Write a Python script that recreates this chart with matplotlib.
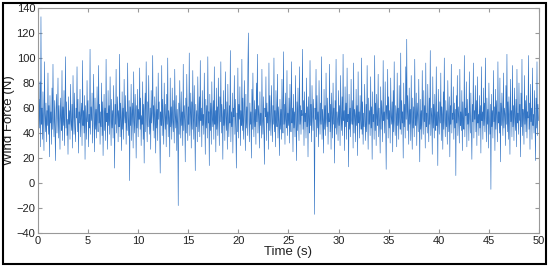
import numpy as np
import matplotlib
matplotlib.use("Agg")
import matplotlib.pyplot as plt
from matplotlib.patches import Rectangle

# Wind force samples (N) over 0-50 s, 25 per row
force = [
    52, 38, 67, 44, 81, 29, 133, 47, 60, 35, 73, 50, 26, 97, 55, 41, 64, 33, 58, 46, 88, 39, 62, 21, 70,
    48, 57, 31, 76, 43, 95, 52, 37, 66, 45, 18, 59, 71, 40, 54, 84, 36, 62, 49, 27, 68, 53, 42, 90, 34,
    61, 46, 74, 30, 56, 101, 44, 65, 38, 51, 23, 69, 47, 58, 35, 79, 50, 42, 63, 28, 86, 55, 39, 72, 45,
    33, 60, 52, 93, 41, 67, 24, 57, 48, 75, 37, 54, 64, 30, 98, 46, 58, 40, 70, 19, 62, 51, 35, 82, 49,
    66, 29, 55, 44, 107, 39, 61, 50, 72, 32, 47, 87, 56, 25, 68, 43, 59, 36, 77, 53, 41, 94, 48, 63, 31,
    57, 45, 80, 38, 65, 22, 52, 71, 42, 60, 34, 99, 49, 56, 27, 74, 46, 62, 39, 85, 53, 30, 67, 44, 58,
    36, 78, 51, 12, 63, 47, 91, 40, 55, 69, 33, 58, 45, 103, 37, 64, 50, 26, 73, 43, 60, 35, 83, 54, 48,
    70, 31, 57, 42, 96, 52, 38, 66, 2, 61, 46, 79, 34, 55, 64, 28, 89, 49, 40, 71, 56, 20, 62, 44, 75,
    37, 59, 51, 92, 43, 68, 30, 54, 47, 81, 35, 63, 16, 58, 72, 41, 97, 50, 33, 65, 45, 86, 53, 39, 60,
    27, 74, 48, 56, 102, 42, 62, 36, 69, 52, 24, 77, 44, 59, 34, 88, 51, 65, 40, 8, 57, 46, 94, 38, 67,
    49, 31, 80, 55, 43, 63, 29, 71, 47, 100, 37, 58, 52, 21, 84, 45, 61, 35, 76, 50, 41, 66, 32, 91, 54,
    44, 70, 26, 59, 48, -18, 64, 39, 82, 53, 36, 73, 46, 57, 30, 95, 42, 62, 51, 17, 68, 40, 87, 55, 34,
    61, 47, 104, 38, 56, 72, 28, 65, 43, 90, 52, 35, 78, 49, 10, 63, 45, 58, 33, 85, 54, 41, 69, 37, 98,
    50, 60, 29, 74, 46, 55, 39, 88, 53, 23, 67, 44, 62, 36, 101, 48, 57, 14, 71, 42, 64, 31, 81, 51, 45,
    66, 35, 93, 47, 58, 25, 76, 43, 61, 38, 84, 55, 30, 69, 49, 97, 40, 63, 52, 19, 74, 46, 59, 34, 89,
    54, 42, 65, 27, 79, 50, 37, 62, 48, 106, 33, 57, 45, 72, 24, 60, 53, 86, 39, 67, 44, 12, 56, 41, 92,
    36, 63, 51, 77, 30, 58, 46, 99, 42, 68, 35, 55, 82, 48, 26, 71, 44, 61, 38, 94, 120, 50, 33, 64, 47,
    57, 20, 75, 43, 88, 52, 37, 66, 45, 59, 31, 80, 49, 103, 40, 62, 54, 28, 73, 46, 56, 36, 91, 51, 39,
    69, 44, 15, 60, 53, 85, 34, 64, 48, 57, 27, 96, 42, 70, 50, 38, 78, 55, 33, 62, 47, 100, 41, 58, 29,
    74, 52, 45, 87, 36, 61, 49, 22, 67, 43, 59, 35, 83, 54, 40, 105, 47, 63, 31, 72, 51, 44, 90, 38, 56,
    46, 68, 32, 79, 53, 41, 97, 48, 60, 25, 71, 44, 57, 37, 86, 52, 18, 65, 42, 76, 50, 34, 93, 47, 62,
    39, 58, 54, 107, 43, 66, 30, 73, 49, 56, 36, 84, 45, 61, 21, 69, 52, 40, 98, 46, 63, 33, 78, 55, 42,
    67, 48, -25, 60, 51, 91, 37, 70, 44, 57, 29, 82, 53, 39, 64, 47, 101, 35, 59, 50, 24, 75, 43, 62, 38,
    88, 52, 45, 68, 31, 56, 49, 95, 41, 63, 27, 72, 54, 36, 80, 47, 60, 16, 66, 44, 99, 39, 57, 51, 34,
    74, 46, 62, 30, 86, 53, 42, 69, 38, 103, 50, 58, 26, 77, 45, 64, 35, 92, 49, 55, 13, 71, 43, 60, 37,
    83, 51, 47, 66, 28, 96, 40, 59, 54, 33, 75, 46, 62, 22, 89, 48, 57, 36, 70, 52, 43, 100, 39, 65, 31,
    56, 45, 79, 50, 34, 63, 41, 94, 53, 27, 68, 47, 58, 38, 85, 44, 61, 19, 73, 49, 55, 35, 102, 42, 64,
    30, 71, 52, 46, 87, 37, 60, 48, 24, 77, 43, 66, 54, 33, 98, 50, 57, 40, 81, 45, 11, 62, 51, 91, 36,
    69, 44, 58, 32, 84, 53, 47, 65, 25, 74, 41, 97, 50, 38, 62, 55, 29, 88, 46, 60, 35, 78, 52, 43, 104,
    39, 66, 48, 57, 20, 80, 45, 63, 36, 93, 51, 115, 42, 70, 54, 31, 76, 47, 59, 34, 86, 50, 27, 68, 44,
    61, 37, 99, 52, 46, 72, 30, 64, 55, 41, 83, 48, 17, 67, 43, 58, 35, 90, 53, 39, 74, 49, 62, 28, 96,
    45, 56, 40, 79, 51, 33, 68, 47, 106, 38, 60, 54, 23, 85, 44, 63, 36, 71, 50, 42, 93, 46, 57, 14, 75,
    52, 39, 65, 48, 88, 34, 61, 55, 27, 73, 43, 100, 50, 37, 66, 45, 58, 31, 82, 53, 41, 69, 21, 62, 47,
    95, 40, 56, 51, 77, 35, 64, 44, 59, 6, 70, 48, 86, 38, 61, 53, 32, 91, 46, 57, 42, 74, 26, 65, 50,
    43, 102, 37, 60, 54, 81, 29, 67, 47, 56, 34, 89, 52, 40, 72, 45, 19, 63, 49, 96, 36, 58, 51, 78, 41,
    66, 30, 85, 48, 55, 38, 70, 44, 62, 24, 93, 50, 57, 35, 76, 46, 64, 41, 100, 53, 33, 68, 47, 59, 28,
    80, 52, 39, 63, -5, 71, 45, 58, 36, 90, 49, 61, 26, 75, 43, 66, 54, 33, 97, 48, 57, 40, 84, 17, 64,
    46, 72, 51, 38, 88, 44, 60, 55, 30, 78, 47, 103, 41, 65, 35, 69, 52, 23, 83, 49, 58, 37, 94, 45, 62,
    34, 76, 53, 42, 67, 29, 91, 48, 56, 39, 80, 50, 63, 21, 72, 45, 99, 38, 59, 54, 31, 86, 47, 66, 41,
    70, 36, 57, 52, 102, 43, 64, 27, 79, 49, 60, 35, 92, 46, 55, 40, 74, 51, 18, 68, 44, 97, 38, 63, 50,
]
t_end = 50
x_ticks = [0, 5, 10, 15, 20, 25, 30, 35, 40, 45, 50]
y_ticks = [-40, -20, 0, 20, 40, 60, 80, 100, 120, 140]

plt.rcParams['font.family'] = ['Liberation Sans', 'DejaVu Sans']

fig = plt.figure(figsize=(5.5, 2.67), dpi=100)
ax = fig.add_axes([0.069, 0.127, 0.911, 0.843])

t = np.linspace(0, t_end, len(force), endpoint=False)
ax.plot(t, force, color='#3274c4', linewidth=0.45)

ax.set_xlim(0, 50)
ax.set_ylim(-40, 140)
ax.set_xticks(x_ticks)
ax.set_yticks(y_ticks)
ax.tick_params(direction='in', top=True, right=True, labelsize=8,
               color='#999999', length=3, pad=2, labelcolor='#222222')
for s in ax.spines.values():
    s.set_color('#999999')
    s.set_linewidth(0.8)
ax.set_xlabel('Time (s)', fontsize=9.5, labelpad=0, color='#222222')
ax.set_ylabel('Wind Force (N)', fontsize=9.5, labelpad=1, color='#222222')

# black frame round the whole figure
fig.patches.append(Rectangle((0.005, 0.012), 0.988, 0.978, transform=fig.transFigure,
                             fill=False, edgecolor='black', linewidth=1.5))

fig.savefig('out.png', dpi=100)
